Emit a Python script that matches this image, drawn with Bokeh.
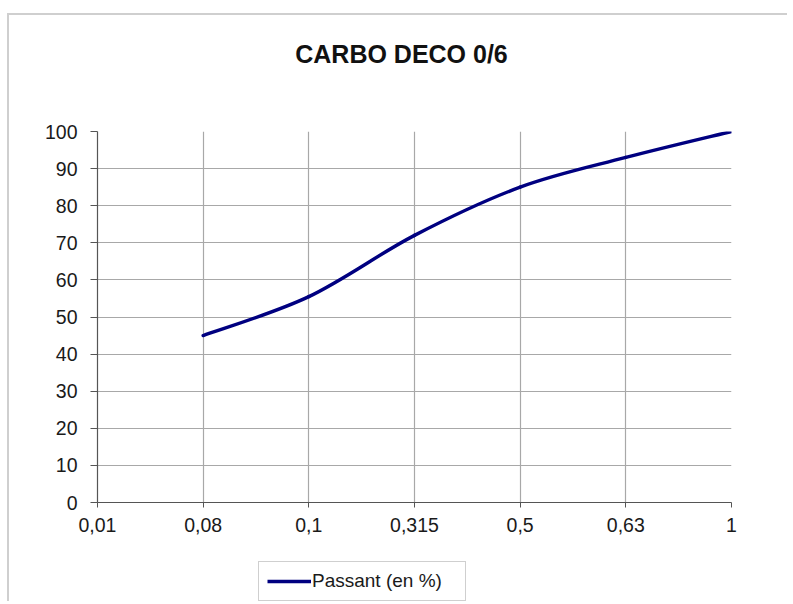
import numpy as np
from bokeh.plotting import figure
from bokeh.layouts import column
from bokeh.models import ColumnDataSource, FixedTicker, Legend, LegendItem, Label, Range1d
from bokeh.embed import file_html
from bokeh.resources import INLINE

title_text = "CARBO DECO 0/6"
categories = ["0,01", "0,08", "0,1", "0,315", "0,5", "0,63", "1"]
passant = [None, 45, 55.5, 72, 85, 93, 100]
series_name = "Passant (en %)"
y_ticks = list(range(0, 101, 10))

FONT = "Liberation Sans"
LINE_COLOR = "#000080"

# points with values
xs = [i for i, v in enumerate(passant) if v is not None]
ys = [v for v in passant if v is not None]

# smoothed curve (Catmull-Rom -> cubic Bezier segments, as spreadsheet "smoothed line")
n = len(xs)
seg = dict(x0=[], y0=[], x1=[], y1=[], cx0=[], cy0=[], cx1=[], cy1=[])
for i in range(n - 1):
    p0 = (xs[max(i - 1, 0)], ys[max(i - 1, 0)])
    p1 = (xs[i], ys[i])
    p2_ = (xs[i + 1], ys[i + 1])
    p3 = (xs[min(i + 2, n - 1)], ys[min(i + 2, n - 1)])
    seg["x0"].append(p1[0]); seg["y0"].append(p1[1])
    seg["x1"].append(p2_[0]); seg["y1"].append(p2_[1])
    seg["cx0"].append(p1[0] + (p2_[0] - p0[0]) / 6); seg["cy0"].append(p1[1] + (p2_[1] - p0[1]) / 6)
    seg["cx1"].append(p2_[0] - (p3[0] - p1[0]) / 6); seg["cy1"].append(p2_[1] - (p3[1] - p1[1]) / 6)
src = ColumnDataSource(seg)

# ---------------- main chart ----------------
p = figure(width=780, height=547, output_backend="svg", toolbar_location=None,
           x_range=(0, len(categories) - 1), y_range=(0, 100), title=None,
           min_border_left=88, min_border_right=58, min_border_top=116, min_border_bottom=60)
p.styles = {"border-top": "2px solid #cfcfcf", "border-left": "2px solid #cfcfcf",
            "margin-top": "13px", "margin-left": "7px"}
p.outline_line_color = None
p.background_fill_color = "white"
p.border_fill_color = "white"

r = p.bezier(x0="x0", y0="y0", x1="x1", y1="y1", cx0="cx0", cy0="cy0", cx1="cx1", cy1="cy1",
             source=src, line_color=LINE_COLOR, line_width=3.4, line_cap="round")

p.xaxis.ticker = FixedTicker(ticks=list(range(len(categories))))
p.xaxis.major_label_overrides = {i: c for i, c in enumerate(categories)}
p.yaxis.ticker = FixedTicker(ticks=y_ticks)
for ax in (p.xaxis, p.yaxis):
    ax.axis_line_color = "#555555"
    ax.axis_line_width = 1.2
    ax.major_tick_line_color = "#555555"
    ax.major_tick_in = 0
    ax.minor_tick_line_color = None
    ax.major_label_text_font = FONT
    ax.major_label_text_font_size = "19.5px"
    ax.major_label_text_color = "#1a1a1a"
p.yaxis.major_tick_out = 7
p.xaxis.major_tick_out = 5
p.yaxis.major_label_standoff = 13
p.xaxis.major_label_standoff = 10

p.xgrid.ticker = FixedTicker(ticks=list(range(len(categories))))
p.ygrid.ticker = FixedTicker(ticks=y_ticks)
for g in (p.xgrid, p.ygrid):
    g.grid_line_color = "#a8a8a8"
    g.grid_line_width = 1.2

title = Label(x=304, y=78, x_units="screen", y_units="screen", text=title_text,
              text_align="center", text_baseline="middle", text_font=FONT,
              text_font_size="25px", text_font_style="bold", text_color="#111111")
p.add_layout(title, "above")

# ---------------- legend strip under the chart ----------------
pl = figure(width=780, height=41, output_backend="svg", toolbar_location=None,
            x_range=Range1d(0, 1), y_range=Range1d(0, 1), title=None,
            x_axis_location=None, y_axis_location=None,
            min_border_left=0, min_border_right=0, min_border_top=0, min_border_bottom=0)
pl.styles = {"border-left": "2px solid #cfcfcf", "margin-left": "7px"}
pl.grid.visible = False
pl.outline_line_color = None
pl.background_fill_color = "white"
pl.border_fill_color = "white"
# same series (falls outside this strip's ranges); it only supplies the legend swatch
r_leg = pl.line(x=xs, y=ys, line_color=LINE_COLOR, line_width=3.4)

legend = Legend(items=[LegendItem(label=series_name, renderers=[r_leg])], location=(161, 0),
                orientation="horizontal", border_line_color="#a0a0a0", border_line_width=1,
                background_fill_color="white", background_fill_alpha=1,
                glyph_width=44, glyph_height=20, label_standoff=1, padding=8, margin=0,
                label_width=145,
                label_text_font=FONT, label_text_font_size="19px", label_text_color="#1a1a1a")
pl.add_layout(legend, "center")

layout = column(p, pl, spacing=0)
open("out.html", "w").write(file_html(layout, INLINE))
